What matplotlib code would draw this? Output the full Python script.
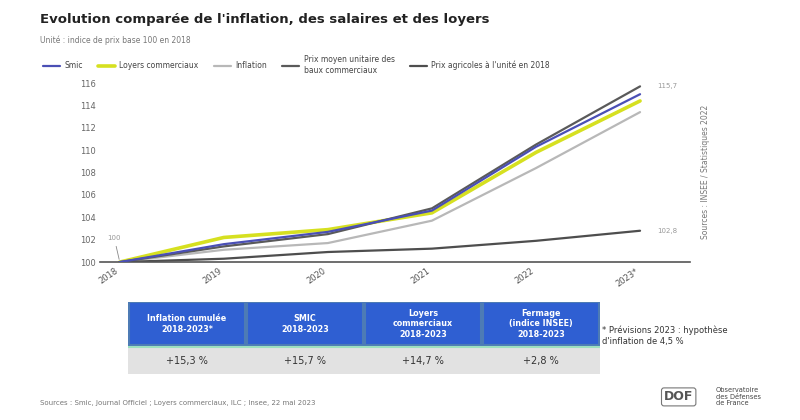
import numpy as np
import matplotlib.pyplot as plt
from matplotlib.patches import Rectangle

# data (index base 100 in 2018)
years = ['2018', '2019', '2020', '2021', '2022', '2023*']
smic = [100.0, 101.6, 102.7, 104.6, 110.3, 115.0]
loyers = [100.0, 102.2, 102.9, 104.4, 109.8, 114.4]
inflation = [100.0, 101.1, 101.7, 103.7, 108.4, 113.4]
prix_baux = [100.0, 101.4, 102.5, 104.8, 110.5, 115.7]
prix_agri = [100.0, 100.3, 100.9, 101.2, 101.9, 102.8]

series_names = ['Smic', 'Loyers commerciaux', 'Inflation',
                'Prix moyen unitaire des\nbaux commerciaux', 'Prix agricoles à l\'unité en 2018']
series_vals = [smic, loyers, inflation, prix_baux, prix_agri]
series_cols = ['#4a4fb5', '#d6e020', '#b8b8b8', '#5a5a5a', '#4e4e4e']
series_lw = [1.6, 2.6, 1.6, 1.6, 1.6]

yticks = [100, 102, 104, 106, 108, 110, 112, 114, 116]

table_head = ['Inflation cumulée\n2018-2023*', 'SMIC\n2018-2023',
              'Loyers\ncommerciaux\n2018-2023', 'Fermage\n(indice INSEE)\n2018-2023']
table_vals = ['+15,3 %', '+15,7 %', '+14,7 %', '+2,8 %']

fig = plt.figure(figsize=(8, 4.2), dpi=100)

ax = fig.add_axes([0.125, 0.376, 0.7375, 0.429])
x = np.arange(len(years))
lines = []
for name, vals, col, lw in zip(series_names, series_vals, series_cols, series_lw):
    l, = ax.plot(x, vals, color=col, lw=lw, label=name, solid_capstyle='round')
    lines.append(l)
# keep the dark top line above the others
lines[3].set_zorder(3)
lines[0].set_zorder(4)

ax.set_xlim(-0.19, 5.48)
ax.set_ylim(100, 116.1)
ax.set_yticks(yticks)
ax.set_yticklabels([str(v) for v in yticks], fontsize=6, color='#666666')
ax.set_xticks(x)
ax.set_xticklabels(years, rotation=35, ha='right', fontsize=6, color='#555555')
ax.tick_params(axis='both', length=0, pad=3)
for s in ['top', 'right', 'left']:
    ax.spines[s].set_visible(False)
ax.spines['bottom'].set_color('#555555')
ax.spines['bottom'].set_linewidth(1.2)

# small value callouts
ax.annotate(f'{prix_baux[-1]:.1f}'.replace('.', ','), (x[-1], prix_baux[-1]), xytext=(12, 0),
            textcoords='offset points', fontsize=5, color='#999999', va='center')
ax.annotate(f'{prix_agri[-1]:.1f}'.replace('.', ','), (x[-1], prix_agri[-1]), xytext=(12, 0),
            textcoords='offset points', fontsize=5, color='#999999', va='center')
ax.annotate('100', (x[0], 100), xytext=(-4, 16), textcoords='offset points', fontsize=5,
            color='#999999', ha='center', arrowprops=dict(arrowstyle='-', color='#888888', lw=0.6))

# title block
fig.text(0.05, 0.945, "Evolution comparée de l'inflation, des salaires et des loyers",
         fontsize=9.5, fontweight='bold', color='#222222')
fig.text(0.05, 0.897, "Unité : indice de prix base 100 en 2018", fontsize=5.5, color='#777777')

fig.legend(handles=lines, labels=series_names, loc='upper left', bbox_to_anchor=(0.045, 0.885),
           ncol=5, frameon=False, fontsize=5.5, handlelength=2.2, columnspacing=2.0,
           handletextpad=0.6, labelcolor='#444444')

fig.text(0.882, 0.59, 'Sources : INSEE / Statistiques 2022', rotation=90, fontsize=5.5,
         color='#777777', ha='center', va='center')

# summary table
tax = fig.add_axes([0.16, 0.11, 0.59, 0.17])
tax.set_xlim(0, 4)
tax.set_ylim(0, 1)
tax.axis('off')
for i, (h, v) in enumerate(zip(table_head, table_vals)):
    tax.add_patch(Rectangle((i + 0.01, 0.4), 0.98, 0.6, facecolor='#2f5fd2',
                            edgecolor='#4d7bb5', lw=1.5))
    tax.text(i + 0.5, 0.7, h, ha='center', va='center', fontsize=5.8, color='white',
             fontweight='bold', linespacing=1.2)
    tax.text(i + 0.5, 0.18, v, ha='center', va='center', fontsize=7, color='#333333')
tax.add_patch(Rectangle((0, 0), 4, 0.36, facecolor='#e2e2e2', edgecolor='none', zorder=0))
tax.plot([0, 4], [0.38, 0.38], color='#9ee0c0', lw=1.5)

fig.text(0.752, 0.2, "* Prévisions 2023 : hypothèse\nd'inflation de 4,5 %", fontsize=6,
         color='#333333', va='center', linespacing=1.3)

fig.text(0.05, 0.035, 'Sources : Smic, Journal Officiel ; Loyers commerciaux, ILC ; Insee, 22 mai 2023',
         fontsize=5, color='#777777')

# logo
fig.text(0.83, 0.055, 'DOF', fontsize=9, color='#555555', fontweight='bold', va='center',
         bbox=dict(boxstyle='round,pad=0.2', fc='white', ec='#777777', lw=0.8))
fig.text(0.895, 0.055, 'Observatoire\ndes Défenses\nde France', fontsize=4.8, color='#444444',
         va='center', linespacing=1.1)

fig.savefig('out.png', dpi=100)
